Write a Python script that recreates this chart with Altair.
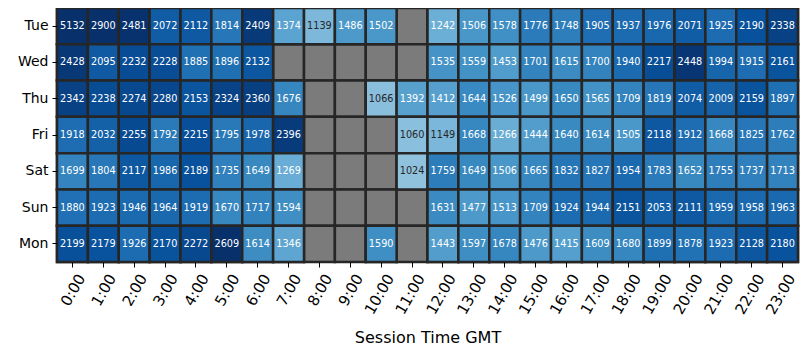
import altair as alt
import pandas as pd

days = ["Tue", "Wed", "Thu", "Fri", "Sat", "Sun", "Mon"]
hours = [f"{h}:00" for h in range(24)]
N = None

tue = [5132, 2900, 2481, 2072, 2112, 1814, 2409, 1374, 1139, 1486, 1502, N, 1242, 1506, 1578, 1776, 1748, 1905, 1937, 1976, 2071, 1925, 2190, 2338]
wed = [2428, 2095, 2232, 2228, 1885, 1896, 2132, N, N, N, N, N, 1535, 1559, 1453, 1701, 1615, 1700, 1940, 2217, 2448, 1994, 1915, 2161]
thu = [2342, 2238, 2274, 2280, 2153, 2324, 2360, 1676, N, N, 1066, 1392, 1412, 1644, 1526, 1499, 1650, 1565, 1709, 1819, 2074, 2009, 2159, 1897]
fri = [1918, 2032, 2255, 1792, 2215, 1795, 1978, 2396, N, N, N, 1060, 1149, 1668, 1266, 1444, 1640, 1614, 1505, 2118, 1912, 1668, 1825, 1762]
sat = [1699, 1804, 2117, 1986, 2189, 1735, 1649, 1269, N, N, N, 1024, 1759, 1649, 1506, 1665, 1832, 1827, 1954, 1783, 1652, 1755, 1737, 1713]
sun = [1880, 1923, 1946, 1964, 1919, 1670, 1717, 1594, N, N, N, N, 1631, 1477, 1513, 1709, 1924, 1944, 2151, 2053, 2111, 1959, 1958, 1963]
mon = [2199, 2179, 1926, 2170, 2272, 2609, 1614, 1346, N, N, 1590, N, 1443, 1597, 1678, 1476, 1415, 1609, 1680, 1899, 1878, 1923, 2128, 2180]

rows = [tue, wed, thu, fri, sat, sun, mon]

records = []
for d, vals in zip(days, rows):
    for h, v in zip(hours, vals):
        records.append({"day": d, "hour": h, "value": v})
df = pd.DataFrame(records)

blues9 = ["#f7fbff", "#deebf7", "#c6dbef", "#9ecae1", "#6baed6",
          "#4292c6", "#2171b5", "#08519c", "#08306b"]
vmax = 2500
dom = [vmax * i / 8 for i in range(9)]

x_enc = alt.X("hour:O", sort=hours, title="Session Time GMT",
              axis=alt.Axis(labelAngle=-60, labelAlign="right", labelBaseline="middle",
                            labelOffset=9, labelPadding=8, tickSize=5, domain=False,
                            labelFontSize=15, titlePadding=13))
y_enc = alt.Y("day:O", sort=days, title=None,
              axis=alt.Axis(tickSize=5, labelPadding=4, domain=False))

base = alt.Chart(df)

gray = base.mark_rect(fill="#7b7b7b", stroke="#262626", strokeWidth=2.5).encode(x=x_enc, y=y_enc)

colored = base.transform_filter("datum.value != null").mark_rect(
    stroke="#262626", strokeWidth=2.5).encode(
    x=x_enc, y=y_enc,
    color=alt.Color("value:Q", scale=alt.Scale(domain=dom, range=blues9, clamp=True,
                                               interpolate="rgb"), legend=None))

text = base.transform_filter("datum.value != null").mark_text(
    fontSize=9.7, font="DejaVu Sans").encode(
    x=x_enc, y=y_enc,
    text=alt.Text("value:Q", format="d"),
    color=alt.condition("datum.value < 1200", alt.value("#262626"), alt.value("white")))

chart = alt.layer(gray, colored, text).properties(
    width=741, height=254,
    autosize=alt.AutoSizeParams(type="none"),
    padding={"left": 49, "top": 0, "right": 4, "bottom": 98},
).configure_view(stroke=None).configure_axis(
    labelFont="DejaVu Sans", labelFontSize=14, labelColor="black",
    titleFont="DejaVu Sans", titleFontSize=16, titleFontWeight="normal", titleColor="black",
    tickColor="black", tickWidth=1,
)

chart.save("out.html", embed_options={"renderer": "svg", "actions": False})
